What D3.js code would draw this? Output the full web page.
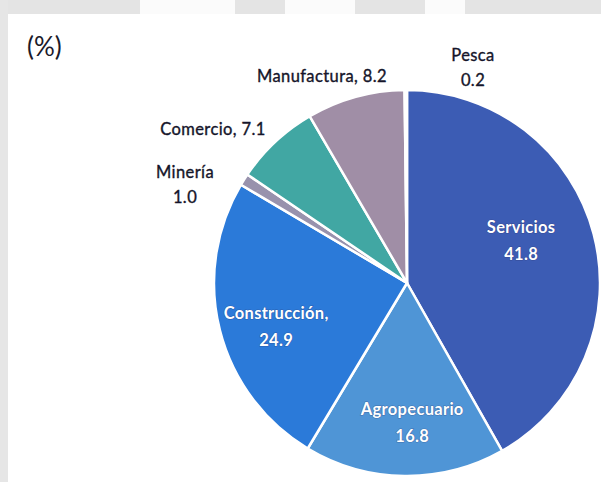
<!DOCTYPE html>
<html>
<head>
<meta charset="utf-8">
<script src="https://cdn.jsdelivr.net/npm/d3@7"></script>
<style>
  body { margin: 0; background: #fff; }
  svg { display: block; }
</style>
</head>
<body>
<div id="chart"></div>
<script>
// sectores y participacion (%)
var sectores = ["Servicios", "Agropecuario", "Construcción", "Minería", "Comercio", "Manufactura", "Pesca"];
var valores  = [41.8, 16.8, 24.9, 1.0, 7.1, 8.2, 0.2];
var colores  = ["#3c5cb4", "#4f95d6", "#2b7ad9", "#9892ad", "#41a7a3", "#a08ea6", "#d9d2dc"];

var width = 601, height = 482;
var cx = 407, cy = 283, radius = 193;

var svg = d3.select("#chart").append("svg")
    .attr("width", width)
    .attr("height", height);

// restos de la captura (franja gris arriba y a la izquierda)
svg.append("rect").attr("x", 0).attr("y", 0).attr("width", width).attr("height", 14).attr("fill", "#e4e4e4");
svg.append("rect").attr("x", 0).attr("y", 0).attr("width", 8).attr("height", height).attr("fill", "#e6e6e6");
[[140, 95], [285, 70], [425, 40]].forEach(function(w) {
  svg.append("rect").attr("x", w[0]).attr("y", 0).attr("width", w[1]).attr("height", 14).attr("fill", "#fbfbfb");
});

var fuente = "Lato, 'Open Sans', sans-serif";

svg.append("text")
    .attr("x", 27).attr("y", 56)
    .style("font-family", fuente)
    .style("font-size", "26px")
    .attr("fill", "#1a1a2a")
    .text("(%)");

var datos = sectores.map(function(s, i) { return { sector: s, valor: valores[i], color: colores[i] }; });

var pie = d3.pie().sort(null).value(function(d) { return d.valor; });
var arc = d3.arc().innerRadius(0).outerRadius(radius);
var arcs = pie(datos);

var g = svg.append("g").attr("transform", "translate(" + cx + "," + cy + ")");

g.selectAll("path")
    .data(arcs)
    .enter().append("path")
    .attr("d", arc)
    .attr("fill", function(d) { return d.data.color; })
    .attr("stroke", "#fff")
    .attr("stroke-width", 2.5)
    .attr("stroke-linejoin", "round");

// etiquetas dentro (blancas) -- radio de la etiqueta por sector y ajuste
var dentro = {
  "Servicios":    { r: 118, dx: 0, dy: -20 },
  "Agropecuario": { r: 140, dx: 7, dy: -8 },
  "Construcción": { r: 135, dx: 0, dy: 3 }
};

arcs.forEach(function(d) {
  var p = dentro[d.data.sector];
  if (!p) return;
  var a = d3.arc().innerRadius(p.r).outerRadius(p.r);
  var c = a.centroid(d);
  var x = c[0] + p.dx;
  var t = g.append("text")
      .attr("x", x).attr("y", c[1] + p.dy)
      .attr("text-anchor", "middle")
      .style("font-family", fuente)
      .style("font-size", "16.5px")
      .style("font-weight", "bold")
      .style("letter-spacing", "0.3px")
      .attr("fill", "#fff")
      .style("paint-order", "stroke")
      .attr("stroke", "rgba(40,40,90,0.35)")
      .attr("stroke-width", 1.2);
  var nombre = d.data.sector === "Construcción" ? "Construcción," : d.data.sector;
  t.append("tspan").attr("x", x).text(nombre);
  t.append("tspan").attr("x", x).attr("dy", 27).text(d.data.valor.toFixed(1));
});

// etiquetas fuera (oscuras): desplazamiento respecto al centro
var fuera = {
  "Pesca":       { dx: 66,   dy: -222, dos: true },
  "Manufactura": { dx: -85,  dy: -201, dos: false },
  "Comercio":    { dx: -194, dy: -148, dos: false },
  "Minería":     { dx: -222, dy: -105, dos: true }
};

arcs.forEach(function(d) {
  var p = fuera[d.data.sector];
  if (!p) return;
  var t = g.append("text")
      .attr("x", p.dx).attr("y", p.dy)
      .attr("text-anchor", "middle")
      .style("font-family", fuente)
      .style("font-size", "16.5px")
      .style("letter-spacing", "0.4px")
      .attr("fill", "#15152a")
      .attr("stroke", "#15152a")
      .attr("stroke-width", 0.35);
  if (p.dos) {
    t.append("tspan").attr("x", p.dx).text(d.data.sector);
    t.append("tspan").attr("x", p.dx).attr("dy", 25).text(d.data.valor.toFixed(1));
  } else {
    t.text(d.data.sector + ", " + d.data.valor.toFixed(1));
  }
});
</script>
</body>
</html>
